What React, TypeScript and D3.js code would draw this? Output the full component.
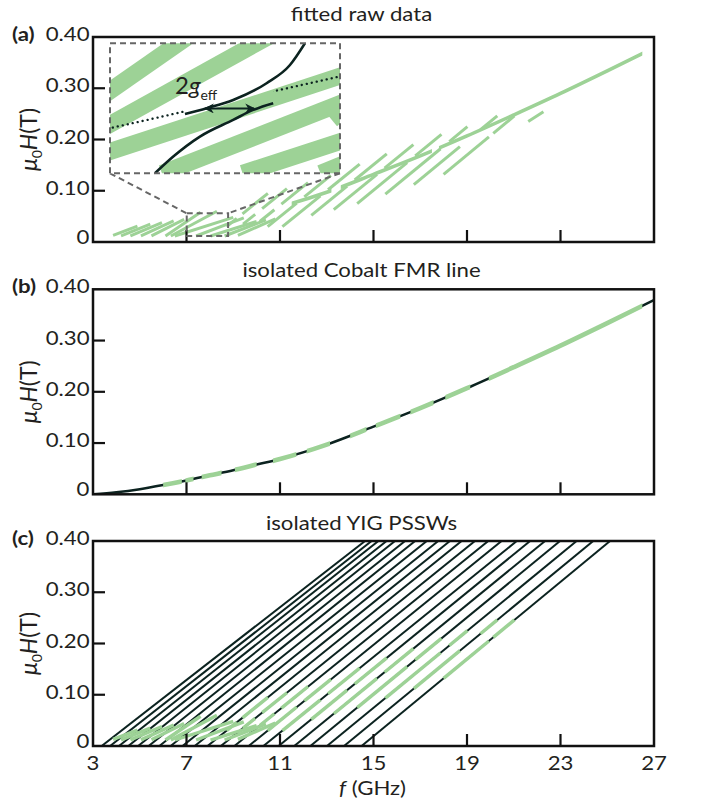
import React from "react";
import * as d3 from "d3";

// ---------- data ----------
const fTicks = [3, 7, 11, 15, 19, 23, 27];
const hTicks = [0, 0.1, 0.2, 0.3, 0.4];
const hTickLabels = ["0", "0.10", "0.20", "0.30", "0.40"];
const panelTitles = ["fitted raw data", "isolated Cobalt FMR line", "isolated YIG PSSWs"];
const panelLetters = ["(a)", "(b)", "(c)"];

// fitted Cobalt FMR (Kittel) line
const cobaltF = [3, 4, 5, 6, 7, 8, 9, 10, 11, 13, 15, 17, 19, 21, 23, 25, 27];
const cobaltH = [0, 0.004, 0.01, 0.018, 0.027, 0.037, 0.047, 0.058, 0.069, 0.097, 0.132, 0.168, 0.207, 0.248, 0.29, 0.334, 0.379];

// measured Cobalt data (f ranges along the line), panel (b)
const cobaltDataRanges = [
  [6.0, 6.8], [6.95, 7.3], [7.65, 8.5], [9.07, 10.0], [10.7, 11.7], [12.14, 13.14],
  [14.0, 14.7], [15.1, 16.15], [16.58, 17.57], [18.07, 19.14], [19.93, 26.5],
];
// Cobalt-like raw data visible in panel (a)
const rawCobaltRanges = [[11.5, 13.2], [13.6, 17.5], [17.8, 26.5]];

// fitted YIG PSSW lines: f at H = 0 and f at H = 0.40 T
const psswF0 = [3.37, 3.73, 4.11, 4.51, 4.93, 5.38, 5.84, 6.32, 6.83, 7.35, 7.9, 8.47, 9.05, 9.66, 10.29, 10.94, 11.61, 12.3, 13.01, 13.74, 14.49];
const psswF1 = [14.64, 14.92, 15.21, 15.56, 15.92, 16.35, 16.78, 17.28, 17.77, 18.27, 18.77, 19.34, 19.91, 20.48, 21.13, 21.7, 22.34, 22.98, 23.69, 24.4, 25.12];

// measured PSSW data lying on fitted lines: [line index, H from, H to]
const psswLineData = [
  [10, 0.03, 0.046], [10, 0.055, 0.095],
  [11, 0.035, 0.054], [11, 0.065, 0.104],
  [12, 0.04, 0.063], [12, 0.074, 0.116],
  [13, 0.03, 0.076], [13, 0.088, 0.13],
  [14, 0.03, 0.09], [14, 0.102, 0.152],
  [15, 0.052, 0.109], [15, 0.121, 0.172],
  [16, 0.063, 0.132], [16, 0.144, 0.19],
  [17, 0.075, 0.155], [17, 0.168, 0.21],
  [18, 0.0935, 0.182], [18, 0.196, 0.225],
  [19, 0.112, 0.186], [19, 0.219, 0.246],
  [20, 0.132, 0.205], [20, 0.212, 0.246],
];
// low-field PSSW data strokes: [f1, H1, f2, H2]
const psswFreeData = [
  [3.86, 0.013, 4.9, 0.031],
  [4.2, 0.012, 5.45, 0.035],
  [4.6, 0.012, 5.95, 0.038],
  [5.05, 0.012, 6.45, 0.041],
  [5.5, 0.012, 6.9, 0.044],
  [6.1, 0.0117, 7.6, 0.058],
  [6.33, 0.0117, 8.3, 0.06],
  [6.5, 0.0117, 9.0, 0.048],
  [7.41, 0.0117, 9.45, 0.047],
  [8.03, 0.0117, 10.0, 0.04],
  [8.63, 0.0117, 10.4, 0.043],
  [9.2, 0.013, 10.8, 0.045],
];
// extra raw points only in panel (a)
const rawExtraData = [
  [21.62, 0.235, 22.27, 0.254],
];

// zoom window of the inset (data coordinates)
const zoomF = [7.01, 8.78];
const zoomH = [0.0117, 0.056];
// anticrossing branches and gap inside the inset
const upperBranchF = [7.587, 7.754, 7.958, 8.215, 8.395, 8.51];
const upperBranchH = [0.0319, 0.0339, 0.0367, 0.0424, 0.0486, 0.056];
const lowerBranchF = [7.356, 7.497, 7.702, 7.958, 8.112, 8.266];
const lowerBranchH = [0.0117, 0.0174, 0.0242, 0.0299, 0.0333, 0.0356];
const gapArrowF = [7.74, 8.12];
const gapArrowH = 0.0338;
const dottedRanges = [[7.01, 7.587], [8.266, 8.78]];

// ---------- style ----------
const GREEN = "#9dd296";
const DARK = "#0c2320";
const FONT = "Lato, 'Open Sans', sans-serif";
const SX = 1.2;
const FS = 18.5;

function Txt({ x, y, anchor = "start", size = FS, weight = "normal", children, fill = "#231f20" }: any) {
  return (
    <text
      transform={`translate(${x},${y}) scale(${SX},1)`}
      textAnchor={anchor}
      fontSize={size}
      fontWeight={weight}
      fontFamily={FONT}
      fill={fill}
    >
      {children}
    </text>
  );
}

export default function App() {
  const x = d3.scaleLinear().domain([3, 27]).range([93, 654]);
  const tops = [37, 289.3, 541];
  const PH = 205;
  const ys = tops.map((t) => d3.scaleLinear().domain([0, 0.4]).range([t + PH, t]));

  const cobaltPts: [number, number][] = cobaltF.map((f, i) => [f, cobaltH[i]]);
  const curveOf = (xs: any, yy: any) =>
    d3.line<[number, number]>().x((d) => xs(d[0])).y((d) => yy(d[1])).curve(d3.curveMonotoneX);

  const lineSeg = (n: number, h: number) => psswF0[n] + (h / 0.4) * (psswF1[n] - psswF0[n]);

  // inset geometry (layout)
  const ib = { x0: 110, x1: 340, y0: 43.3, y1: 173.3 };
  const xi = d3.scaleLinear().domain(zoomF).range([ib.x0, ib.x1]);
  const yi = d3.scaleLinear().domain(zoomH).range([ib.y1, ib.y0]);

  const greenStrokes = (xs: any, yy: any, w: number, withRaw: boolean, key: string) => {
    const els: any[] = [];
    psswFreeData.forEach((d, i) =>
      els.push(
        <line key={key + "f" + i} x1={xs(d[0])} y1={yy(d[1])} x2={xs(d[2])} y2={yy(d[3])} stroke={GREEN} strokeWidth={w} />
      )
    );
    psswLineData.forEach((d, i) => {
      const [n, a, b] = d;
      els.push(
        <line key={key + "l" + i} x1={xs(lineSeg(n, a))} y1={yy(a)} x2={xs(lineSeg(n, b))} y2={yy(b)} stroke={GREEN} strokeWidth={w} />
      );
    });
    if (withRaw)
      rawExtraData.forEach((d, i) =>
        els.push(<line key={key + "r" + i} x1={xs(d[0])} y1={yy(d[1])} x2={xs(d[2])} y2={yy(d[3])} stroke={GREEN} strokeWidth={w} />)
      );
    return els;
  };

  const bottomOf = (i: number) => tops[i] + PH;

  const frameAndAxes = (i: number) => {
    const yy = ys[i];
    const b = bottomOf(i);
    return (
      <g key={"ax" + i}>
        {fTicks.slice(1, -1).map((t) => (
          <line key={"xt" + t} x1={x(t)} x2={x(t)} y1={b} y2={b - 12} stroke="#111" strokeWidth={2.2} />
        ))}
        {hTicks.slice(1, -1).map((t) => (
          <line key={"yt" + t} x1={93} x2={105} y1={yy(t)} y2={yy(t)} stroke="#111" strokeWidth={2.2} />
        ))}
        <rect x={93} y={tops[i]} width={654 - 93} height={PH} fill="none" stroke="#111" strokeWidth={2.5} />
        {hTicks.map((t, k) => (
          <Txt key={"yl" + k} x={89.5} y={yy(t) + (t === 0 ? 2 : 4)} anchor="end">
            {hTickLabels[k]}
          </Txt>
        ))}
        <Txt x={12} y={tops[i] + 4} weight="bold">
          {panelLetters[i]}
        </Txt>
        <Txt x={361.5} y={[21, 277, 530][i]} anchor="middle">
          {panelTitles[i]}
        </Txt>
        <text
          transform={`translate(37,${(tops[i] + b) / 2}) rotate(-90)`}
          textAnchor="middle"
          fontFamily={FONT}
          fontSize={23}
          fill="#231f20"
        >
          <tspan fontStyle="italic">μ</tspan>
          <tspan fontSize={14} dy={5}>0</tspan>
          <tspan fontStyle="italic" dy={-5}>H</tspan>
          <tspan>(T)</tspan>
        </text>
      </g>
    );
  };

  const cobaltPath = curveOf(x, ys[1])(cobaltPts) as string;

  return (
    <svg width={704} height={808} style={{ position: "absolute", left: 0, top: 0, background: "#fff" }}>
      <defs>
        {tops.map((t, i) => (
          <clipPath id={"plot" + i} key={"cp" + i}>
            <rect x={93} y={t} width={654 - 93} height={PH} />
          </clipPath>
        ))}
        <clipPath id="cobB">
          {cobaltDataRanges.map((r, i) => (
            <rect key={i} x={x(r[0])} y={tops[1]} width={x(r[1]) - x(r[0])} height={PH} />
          ))}
        </clipPath>
        <clipPath id="cobA">
          {rawCobaltRanges.map((r, i) => (
            <rect key={i} x={x(r[0])} y={tops[0]} width={x(r[1]) - x(r[0])} height={PH} />
          ))}
        </clipPath>
        <clipPath id="insetClip">
          <rect x={ib.x0} y={ib.y0} width={ib.x1 - ib.x0} height={ib.y1 - ib.y0} />
        </clipPath>
        <clipPath id="dotClip">
          {dottedRanges.map((r, i) => (
            <rect key={i} x={xi(r[0])} y={ib.y0} width={xi(r[1]) - xi(r[0])} height={ib.y1 - ib.y0} />
          ))}
        </clipPath>
        <marker id="ah" viewBox="0 0 10 10" refX={9} refY={5} markerWidth={13} markerHeight={10} markerUnits="userSpaceOnUse" orient="auto-start-reverse">
          <path d="M0,0 L10,5 L0,10 L3,5 Z" fill={DARK} />
        </marker>
      </defs>

      {/* ---- panel (a) ---- */}
      <g clipPath="url(#plot0)">
        {greenStrokes(x, ys[0], 3, true, "a")}
        <g clipPath="url(#cobA)">
          <path d={curveOf(x, ys[0])(cobaltPts) as string} fill="none" stroke={GREEN} strokeWidth={3.6} />
        </g>
      </g>

      {/* ---- panel (b) ---- */}
      <g clipPath="url(#plot1)">
        <path d={cobaltPath} fill="none" stroke={DARK} strokeWidth={2.5} />
        <g clipPath="url(#cobB)">
          <path d={cobaltPath} fill="none" stroke={GREEN} strokeWidth={4.6} />
        </g>
      </g>

      {/* ---- panel (c) ---- */}
      <g clipPath="url(#plot2)">
        {psswF0.map((f0, n) => (
          <line key={"pl" + n} x1={x(f0)} y1={ys[2](0)} x2={x(psswF1[n])} y2={ys[2](0.4)} stroke={DARK} strokeWidth={2} />
        ))}
        {greenStrokes(x, ys[2], 3.4, false, "c")}
      </g>

      {[0, 1, 2].map((i) => frameAndAxes(i))}

      {/* x axis labels on panel (c) */}
      {fTicks.map((t) => (
        <Txt key={"xl" + t} x={x(t)} y={770} anchor="middle">
          {String(t)}
        </Txt>
      ))}
      <Txt x={372.5} y={795} anchor="middle">
        <tspan fontStyle="italic">f</tspan> (GHz)
      </Txt>

      {/* ---- zoom box and connectors ---- */}
      <g stroke="#666" strokeWidth={2} strokeDasharray="6 4" fill="none">
        <rect x={x(zoomF[0])} y={ys[0](zoomH[1])} width={x(zoomF[1]) - x(zoomF[0])} height={ys[0](zoomH[0]) - ys[0](zoomH[1])} />
        <line x1={ib.x0} y1={ib.y1} x2={x(zoomF[0])} y2={ys[0](zoomH[1])} />
        <line x1={ib.x1} y1={ib.y1} x2={x(zoomF[1])} y2={ys[0](zoomH[1])} />
      </g>

      {/* ---- inset ---- */}
      <rect x={ib.x0} y={ib.y0} width={ib.x1 - ib.x0} height={ib.y1 - ib.y0} fill="#fff" />
      <g clipPath="url(#insetClip)">
        {greenStrokes(xi, yi, 17, true, "i")}
        <g clipPath="url(#dotClip)">
          <path d={curveOf(xi, yi)(cobaltPts) as string} fill="none" stroke={DARK} strokeWidth={2.3} strokeDasharray="0.1 5" strokeLinecap="round" />
        </g>
        <path d={curveOf(xi, yi)(upperBranchF.map((f, i) => [f, upperBranchH[i]]) as any) as string} fill="none" stroke={DARK} strokeWidth={2.6} />
        <path d={curveOf(xi, yi)(lowerBranchF.map((f, i) => [f, lowerBranchH[i]]) as any) as string} fill="none" stroke={DARK} strokeWidth={2.6} />
        <line x1={xi(gapArrowF[0])} y1={yi(gapArrowH)} x2={xi(gapArrowF[1])} y2={yi(gapArrowH)} stroke={DARK} strokeWidth={2} markerStart="url(#ah)" markerEnd="url(#ah)" />
      </g>
      <rect x={ib.x0} y={ib.y0} width={ib.x1 - ib.x0} height={ib.y1 - ib.y0} fill="none" stroke="#666" strokeWidth={2} strokeDasharray="6 4" />
      <text x={175} y={93.5} fontFamily={FONT} fontSize={24} fill="#231f20">
        2<tspan fontStyle="italic">g</tspan>
        <tspan fontSize={14} dy={6}>eff</tspan>
      </text>
    </svg>
  );
}
